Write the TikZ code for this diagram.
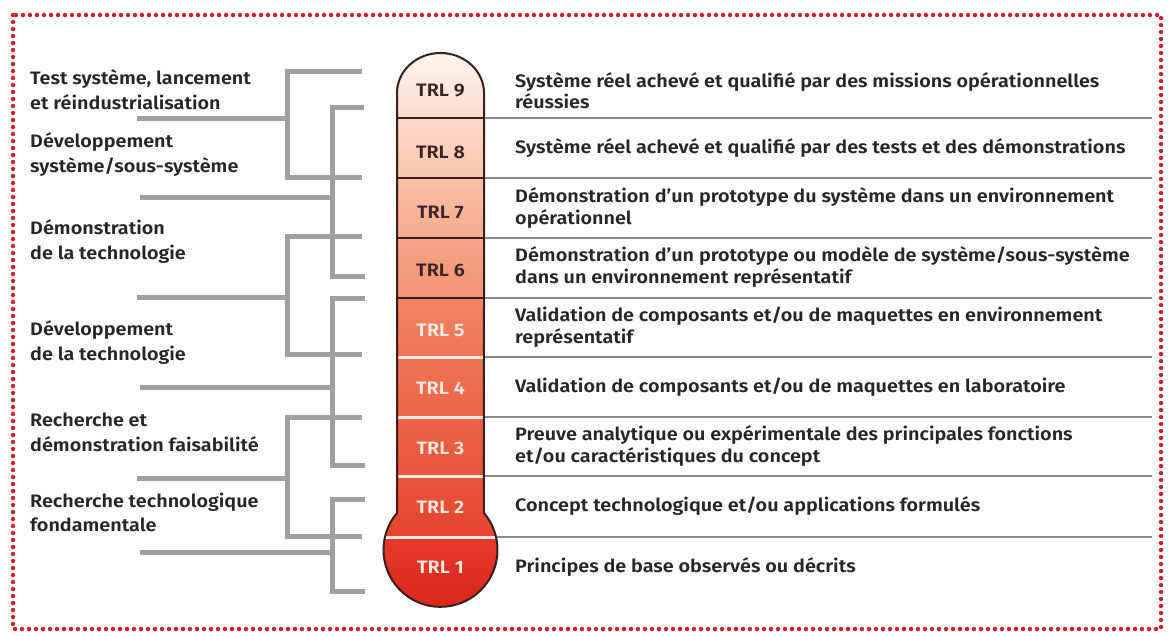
\documentclass[tikz,border=0pt]{standalone}
\usepackage{fontspec}
\setmainfont{Fira Sans}[UprightFont=* SemiBold, BoldFont=* Bold, FakeStretch=1.1]
\definecolor{txt}{HTML}{262626}
\definecolor{brk}{HTML}{A0A0A0}
\definecolor{rule}{HTML}{8A8A8A}
\definecolor{dotred}{HTML}{D0202E}
\definecolor{outl}{HTML}{3A1E1E}
\definecolor{darklab}{HTML}{3B2424}
\definecolor{lightlab}{HTML}{FDEAE0}
\definecolor{c9a}{HTML}{FFFBF8}\definecolor{c9b}{HTML}{FBDACB}
\definecolor{c8a}{HTML}{FCD9C9}\definecolor{c8b}{HTML}{F9C4AE}
\definecolor{c7a}{HTML}{F9C0A6}\definecolor{c7b}{HTML}{F6AB8E}
\definecolor{c6a}{HTML}{F5A487}\definecolor{c6b}{HTML}{F29373}
\definecolor{c5a}{HTML}{F08466}\definecolor{c5b}{HTML}{EE7558}
\definecolor{c4a}{HTML}{EE7356}\definecolor{c4b}{HTML}{EC6548}
\definecolor{c3a}{HTML}{EC6448}\definecolor{c3b}{HTML}{E9553B}
\definecolor{c2a}{HTML}{E9553B}\definecolor{c2b}{HTML}{E64430}
\definecolor{c1a}{HTML}{E63A2B}\definecolor{c1b}{HTML}{D8241C}
\begin{document}
\begin{tikzpicture}[x=1pt,y=-1pt,
  desc/.style={anchor=west,align=left,inner sep=0pt,text=txt,font=\fontsize{18}{21.5}\selectfont},
  phase/.style={anchor=west,align=left,inner sep=0pt,text=txt,font=\fontsize{18}{24.5}\selectfont},
  trldark/.style={inner sep=0pt,text=darklab,font=\fontsize{18}{20}\selectfont},
  trllight/.style={inner sep=0pt,text=lightlab,font=\fontsize{18}{20}\selectfont},
  bracket/.style={draw=brk,line width=5pt},
  hrule/.style={draw=rule,line width=2.2pt},
  darksep/.style={draw=outl,line width=2.6pt},
  lightsep/.style={draw=lightlab,line width=3pt}]
\useasboundingbox (0,0) rectangle (1168,635);
\fill[white] (0,0) rectangle (1168,635);
% dotted frame
\draw[dotred,line width=4.5pt,line cap=round,dash pattern=on 0pt off 7pt] (13,15) rectangle (1161,629);

% thermometer
\def\thermo{(397,93) -- (397,513) arc[start angle=220.26, end angle=-40.26, radius=57] -- (484,93) arc[start angle=0, end angle=-180, x radius=43.5, y radius=40] -- cycle}
\begin{scope}
\clip \thermo;
\shade[top color=c9a, bottom color=c9b] (370,40) rectangle (510,118);
\shade[top color=c8a, bottom color=c8b] (370,118) rectangle (510,178);
\shade[top color=c7a, bottom color=c7b] (370,178) rectangle (510,238);
\shade[top color=c6a, bottom color=c6b] (370,238) rectangle (510,298);
\shade[top color=c5a, bottom color=c5b] (370,298) rectangle (510,357);
\shade[top color=c4a, bottom color=c4b] (370,357) rectangle (510,417);
\shade[top color=c3a, bottom color=c3b] (370,417) rectangle (510,476);
\shade[top color=c2a, bottom color=c2b] (370,476) rectangle (510,537);
\shade[top color=c1a, bottom color=c1b] (370,537) rectangle (510,612);
\draw[darksep] (370,118) -- (510,118);
\draw[darksep] (370,178) -- (510,178);
\draw[darksep] (370,238) -- (510,238);
\draw[darksep] (370,298) -- (510,298);
\draw[lightsep] (370,357) -- (510,357);
\draw[lightsep] (370,417) -- (510,417);
\draw[lightsep] (370,476) -- (510,476);
\draw[lightsep] (370,537) -- (510,537);
\end{scope}
\draw[outl,line width=2pt] \thermo;

% TRL labels
\node[trldark]  (t9) at (440.5,91)  {TRL 9};
\node[trldark]  (t8) at (440.5,152) {TRL 8};
\node[trldark]  (t7) at (440.5,212) {TRL 7};
\node[trldark]  (t6) at (440.5,270) {TRL 6};
\node[trllight] (t5) at (440.5,330) {TRL 5};
\node[trllight] (t4) at (440.5,388) {TRL 4};
\node[trllight] (t3) at (440.5,448) {TRL 3};
\node[trllight] (t2) at (440.5,507) {TRL 2};
\node[trllight] (t1) at (440.5,567) {TRL 1};

% right rules
\coordinate (r1a) at (485,118); \coordinate (r1b) at (1152,118);
\coordinate (r2a) at (485,178); \coordinate (r2b) at (1152,178);
\coordinate (r3a) at (485,238); \coordinate (r3b) at (1152,238);
\coordinate (r4a) at (485,298); \coordinate (r4b) at (1152,298);
\coordinate (r5a) at (485,357); \coordinate (r5b) at (1152,357);
\coordinate (r6a) at (485,417); \coordinate (r6b) at (1152,417);
\coordinate (r7a) at (485,476); \coordinate (r7b) at (1152,476);
\coordinate (r8a) at (497,537); \coordinate (r8b) at (1152,537);
\foreach \i in {1,...,8} \draw[hrule] (r\i a) -- (r\i b);

% descriptions
\node[desc] (d9) at (515,90.5) {Système réel achevé et qualifié par des missions opérationnelles\\réussies};
\node[desc] (d8) at (515,148) {Système réel achevé et qualifié par des tests et des démonstrations};
\node[desc] (d7) at (515,208) {Démonstration d’un prototype du système dans un environnement\\opérationnel};
\node[desc] (d6) at (515,267) {Démonstration d’un prototype ou modèle de système/sous-système\\dans un environnement représentatif};
\node[desc] (d5) at (515,327) {Validation de composants et/ou de maquettes en environnement\\représentatif};
\node[desc] (d4) at (515,387) {Validation de composants et/ou de maquettes en laboratoire};
\node[desc] (d3) at (515,446) {Preuve analytique ou expérimentale des principales fonctions\\et/ou caractéristiques du concept};
\node[desc] (d2) at (515,506) {Concept technologique et/ou applications formulés};
\node[desc] (d1) at (515,567) {Principes de base observés ou décrits};

% phase labels
\node[phase] (l6) at (30,89.5)  {Test système, lancement\\et réindustrialisation};
\node[phase] (l5) at (30,154.5) {Développement\\système/sous-système};
\node[phase] (l4) at (30,241.5) {Démonstration\\de la technologie};
\node[phase] (l3) at (30,342.5) {Développement\\de la technologie};
\node[phase] (l2) at (30,432.5) {Recherche et\\démonstration faisabilité};
\node[phase] (l1) at (30,512.5) {Recherche technologique\\fondamentale};

% brackets
\draw[bracket] (362,71) -- (287,71) -- (287,177) -- (362,177);
\draw[bracket] (137,118) -- (287,118);
\draw[bracket] (364,107) -- (332,107) -- (332,276) -- (365,276);
\draw[bracket] (140,197) -- (332,197);
\draw[bracket] (362,236) -- (287,236) -- (287,354) -- (362,354);
\draw[bracket] (137,297) -- (287,297);
\draw[bracket] (365,298) -- (332,298) -- (332,465) -- (365,465);
\draw[bracket] (140,387) -- (332,387);
\draw[bracket] (362,417) -- (287,417) -- (287,536) -- (362,536);
\draw[bracket] (137,478) -- (287,478);
\draw[bracket] (365,499) -- (332,499) -- (332,591) -- (365,591);
\draw[bracket] (140,552) -- (332,552);
\end{tikzpicture}
\end{document}
